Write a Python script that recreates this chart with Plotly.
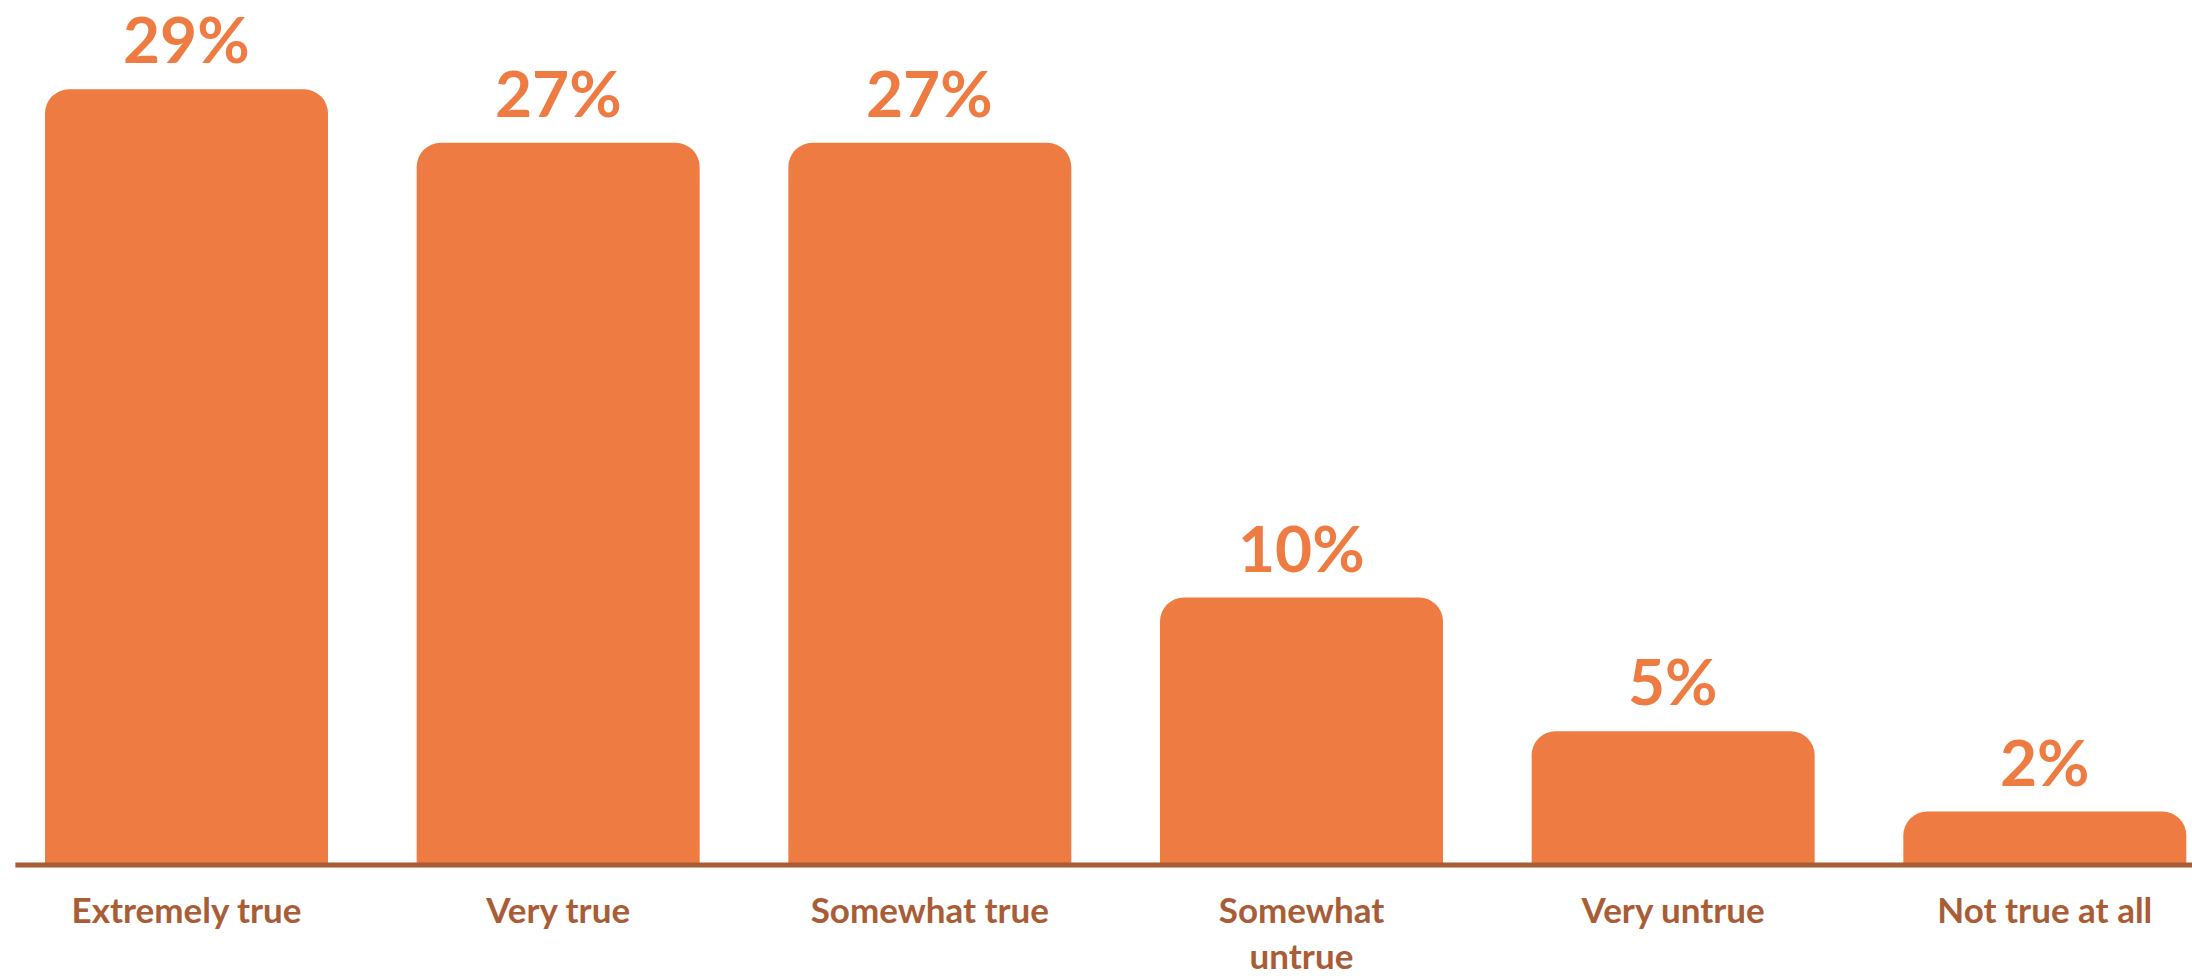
import plotly.graph_objects as go

# Survey responses and their shares (%)
categories = ["Extremely true", "Very true", "Somewhat true",
              "Somewhat<br>untrue", "Very untrue", "Not true at all"]
shares = [29, 27, 27, 10, 5, 2]
value_labels = [f"{v}%" for v in shares]

BAR_COLOR = "#EE7C42"
INK_COLOR = "#A95D36"
FONT = "Lato"

fig = go.Figure(
    go.Bar(
        x=categories,
        y=shares,
        marker=dict(color=BAR_COLOR, line=dict(width=0)),
        hoverinfo="skip",
    )
)

# Percentage labels above each bar
for cat, val, lab in zip(categories, shares, value_labels):
    fig.add_annotation(
        x=cat, y=val, text=f"<b>{lab}</b>",
        showarrow=False, yanchor="bottom", yshift=10,
        font=dict(family=FONT, size=64, color=BAR_COLOR),
    )

# Baseline rule (paper coordinates so it is not clipped by the plot area)
fig.add_shape(
    type="line", xref="paper", yref="paper",
    x0=0.007, x1=1, y0=0, y1=0,
    line=dict(color=INK_COLOR, width=5),
    layer="above",
)

fig.update_layout(
    width=2192, height=980,
    margin=dict(l=0, r=0, t=0, b=115, autoexpand=False),
    paper_bgcolor="white", plot_bgcolor="white",
    bargap=0.2386,
    barcornerradius=24,
    showlegend=False,
    font=dict(family=FONT),
    xaxis=dict(
        type="category",
        range=[-0.5018, 5.396],
        showgrid=False, zeroline=False, showline=False,
        ticks="",
        automargin=False,
        tickfont=dict(family=FONT, size=35, color=INK_COLOR, weight="bold"),
        ticklabelstandoff=22,
    ),
    yaxis=dict(
        range=[0, 32.34],
        visible=False,
        automargin=False,
        showgrid=False, zeroline=False,
    ),
)

fig.write_html("out.html")
